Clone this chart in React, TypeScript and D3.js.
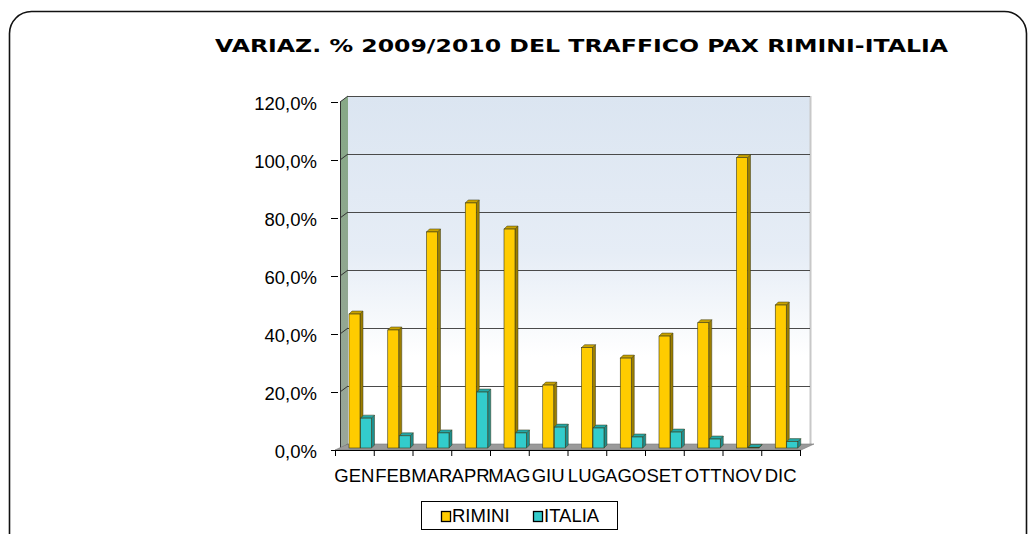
import React, { useRef, useEffect } from 'react';
import * as d3 from 'd3';

const months = ['GEN', 'FEB', 'MAR', 'APR', 'MAG', 'GIU', 'LUG', 'AGO', 'SET', 'OTT', 'NOV', 'DIC'];
const rimini = [46.2, 40.7, 74.5, 84.5, 75.5, 21.7, 34.6, 31.0, 38.6, 43.2, 100.1, 49.3];
const italia = [10.3, 4.2, 5.2, 19.3, 5.2, 7.2, 6.9, 3.8, 5.5, 3.1, 0.2, 2.2];
const yTicks = [0, 20, 40, 60, 80, 100, 120];
const seriesNames = ['RIMINI', 'ITALIA'];

const App = () => {
  const svgRef = useRef<SVGSVGElement>(null);

  useEffect(() => {
    const svg = d3.select(svgRef.current);
    svg.selectAll('*').remove();

    // depth offset of the 3D box
    const dx = 8, dy = -6;
    const x = d3.scaleBand().domain(months).range([335, 800]);
    const y = d3.scaleLinear().domain([0, 120]).range([450, 102]);
    const yBar = d3.scaleLinear().domain([0, 120]).range([448, 100]);
    const font = 'Liberation Sans, Arial, sans-serif';

    const defs = svg.append('defs');
    const wall = defs.append('linearGradient').attr('id', 'wall').attr('x1', 0).attr('y1', 0).attr('x2', 0).attr('y2', 1);
    wall.append('stop').attr('offset', '0%').attr('stop-color', '#dbe5f1');
    wall.append('stop').attr('offset', '45%').attr('stop-color', '#e6edf6');
    wall.append('stop').attr('offset', '75%').attr('stop-color', '#ffffff');
    wall.append('stop').attr('offset', '100%').attr('stop-color', '#ffffff');
    const side = defs.append('linearGradient').attr('id', 'side').attr('x1', 0).attr('y1', 0).attr('x2', 0).attr('y2', 1);
    side.append('stop').attr('offset', '0%').attr('stop-color', '#86a886');
    side.append('stop').attr('offset', '100%').attr('stop-color', '#9aa69a');

    // outer frame
    svg.append('rect')
      .attr('x', 9.5).attr('y', 11.5).attr('width', 1017).attr('height', 560)
      .attr('rx', 22).attr('fill', '#fff').attr('stroke', '#111').attr('stroke-width', 1.6);

    // title
    svg.append('text')
      .attr('x', 215).attr('y', 52)
      .attr('font-family', 'DejaVu Sans, Verdana, sans-serif')
      .attr('font-weight', 'bold').attr('font-size', 18)
      .attr('textLength', 733).attr('lengthAdjust', 'spacingAndGlyphs')
      .text('VARIAZ. % 2009/2010 DEL TRAFFICO PAX RIMINI-ITALIA');

    const x0 = 340, x1 = 802;
    // back wall
    svg.append('rect')
      .attr('x', x0 + dx).attr('y', y(120) + dy)
      .attr('width', x1 - x0).attr('height', y(0) - y(120))
      .attr('fill', 'url(#wall)');
    svg.append('line')
      .attr('x1', x1 + dx + 0.5).attr('x2', x1 + dx + 0.5)
      .attr('y1', y(120) + dy).attr('y2', y(0) + dy)
      .attr('stroke', '#c8c8c8').attr('stroke-width', 2);

    // gridlines on the back wall
    yTicks.forEach(t => {
      if (t === 0) return;
      svg.append('line')
        .attr('x1', x0 + dx).attr('x2', x1 + dx)
        .attr('y1', y(t) + dy + 0.5).attr('y2', y(t) + dy + 0.5)
        .attr('stroke', '#4a4a4a').attr('stroke-width', 1);
    });

    // left side wall
    svg.append('polygon')
      .attr('points', [[x0, y(120)], [x0 + dx, y(120) + dy], [x0 + dx, y(0) + dy], [x0, y(0)]].map(p => p.join(',')).join(' '))
      .attr('fill', 'url(#side)');
    yTicks.forEach(t => {
      svg.append('line')
        .attr('x1', x0).attr('x2', x0 + dx)
        .attr('y1', y(t)).attr('y2', y(t) + dy)
        .attr('stroke', '#333').attr('stroke-width', 1);
    });
    svg.append('line')
      .attr('x1', x0 + 0.5).attr('x2', x0 + 0.5)
      .attr('y1', y(120)).attr('y2', y(0))
      .attr('stroke', '#333');

    // floor
    svg.append('polygon')
      .attr('points', [[x0 - 5, y(0)], [x0 + dx, y(0) + dy], [x1 + dx + 4, y(0) + dy], [x1 - 1, y(0)]].map(p => p.join(',')).join(' '))
      .attr('fill', '#9a9a9a').attr('stroke', '#7a7a7a').attr('stroke-width', 0.6);

    // y axis ticks and labels
    const yAxis = svg.append('g');
    yTicks.forEach(t => {
      yAxis.append('line')
        .attr('x1', 331).attr('x2', 338)
        .attr('y1', y(t) + 0.5).attr('y2', y(t) + 0.5)
        .attr('stroke', '#000');
      yAxis.append('text')
        .attr('x', 317).attr('y', y(t) + 8)
        .attr('text-anchor', 'end')
        .attr('font-family', font)
        .attr('font-size', 18.5)
        .text(t.toFixed(1).replace('.', ',') + '%');
    });

    // x axis
    const xAxis = svg.append('g');
    xAxis.append('line')
      .attr('x1', 335).attr('x2', 801).attr('y1', y(0) + 0.5).attr('y2', y(0) + 0.5)
      .attr('stroke', '#000');
    months.forEach((m, i) => {
      const bx = x(m) as number;
      xAxis.append('line')
        .attr('x1', bx + x.bandwidth() + 0.5).attr('x2', bx + x.bandwidth() + 0.5)
        .attr('y1', y(0)).attr('y2', y(0) + 6)
        .attr('stroke', '#000');
      if (i === 0) {
        xAxis.append('line')
          .attr('x1', bx + 0.5).attr('x2', bx + 0.5)
          .attr('y1', y(0)).attr('y2', y(0) + 6)
          .attr('stroke', '#000');
      }
      xAxis.append('text')
        .attr('x', bx + x.bandwidth() / 2).attr('y', 482)
        .attr('text-anchor', 'middle')
        .attr('font-family', font)
        .attr('font-size', 18.5)
        .text(m);
    });

    // 3D bars
    const bw = 11, bd = 3;
    const drawBar = (bx: number, v: number, front: string, sideC: string, topC: string) => {
      const top = yBar(v);
      const bot = yBar(0);
      const g = svg.append('g');
      g.append('polygon')
        .attr('points', [[bx + bw, top], [bx + bw + bd, top - bd], [bx + bw + bd, bot - bd], [bx + bw, bot]].map(p => p.join(',')).join(' '))
        .attr('fill', sideC).attr('stroke', '#3a3a1a').attr('stroke-width', 0.5);
      g.append('polygon')
        .attr('points', [[bx, top], [bx + bd, top - bd], [bx + bw + bd, top - bd], [bx + bw, top]].map(p => p.join(',')).join(' '))
        .attr('fill', topC).attr('stroke', '#3a3a1a').attr('stroke-width', 0.5);
      g.append('rect')
        .attr('x', bx).attr('y', top).attr('width', bw).attr('height', Math.max(0, bot - top))
        .attr('fill', front).attr('stroke', '#3a3a1a').attr('stroke-width', 0.6);
    };

    months.forEach((m, i) => {
      const bx = x(m) as number;
      drawBar(bx + 14, rimini[i], '#ffcc00', '#9c7e00', '#c9a200');
      drawBar(bx + 25.5, italia[i], '#33cccc', '#1e8f8f', '#22a8a8');
    });

    // legend
    const lg = svg.append('g');
    lg.append('rect')
      .attr('x', 421.5).attr('y', 501.5).attr('width', 196).attr('height', 28)
      .attr('fill', '#fff').attr('stroke', '#000').attr('stroke-width', 1);
    const colors = ['#ffcc00', '#33cccc'];
    const lx = [441, 533];
    seriesNames.forEach((s, i) => {
      lg.append('rect')
        .attr('x', lx[i] + 0.5).attr('y', 511.5).attr('width', 9).attr('height', 10)
        .attr('fill', colors[i]).attr('stroke', '#000').attr('stroke-width', 1.3);
      lg.append('text')
        .attr('x', lx[i] + 11).attr('y', 522)
        .attr('font-family', font)
        .attr('font-size', 18.5)
        .text(s);
    });
  }, []);

  return (
    <svg
      ref={svgRef}
      width={1036}
      height={534}
      style={{ position: 'absolute', left: 0, top: 0, display: 'block' }}
    />
  );
};

export default App;
